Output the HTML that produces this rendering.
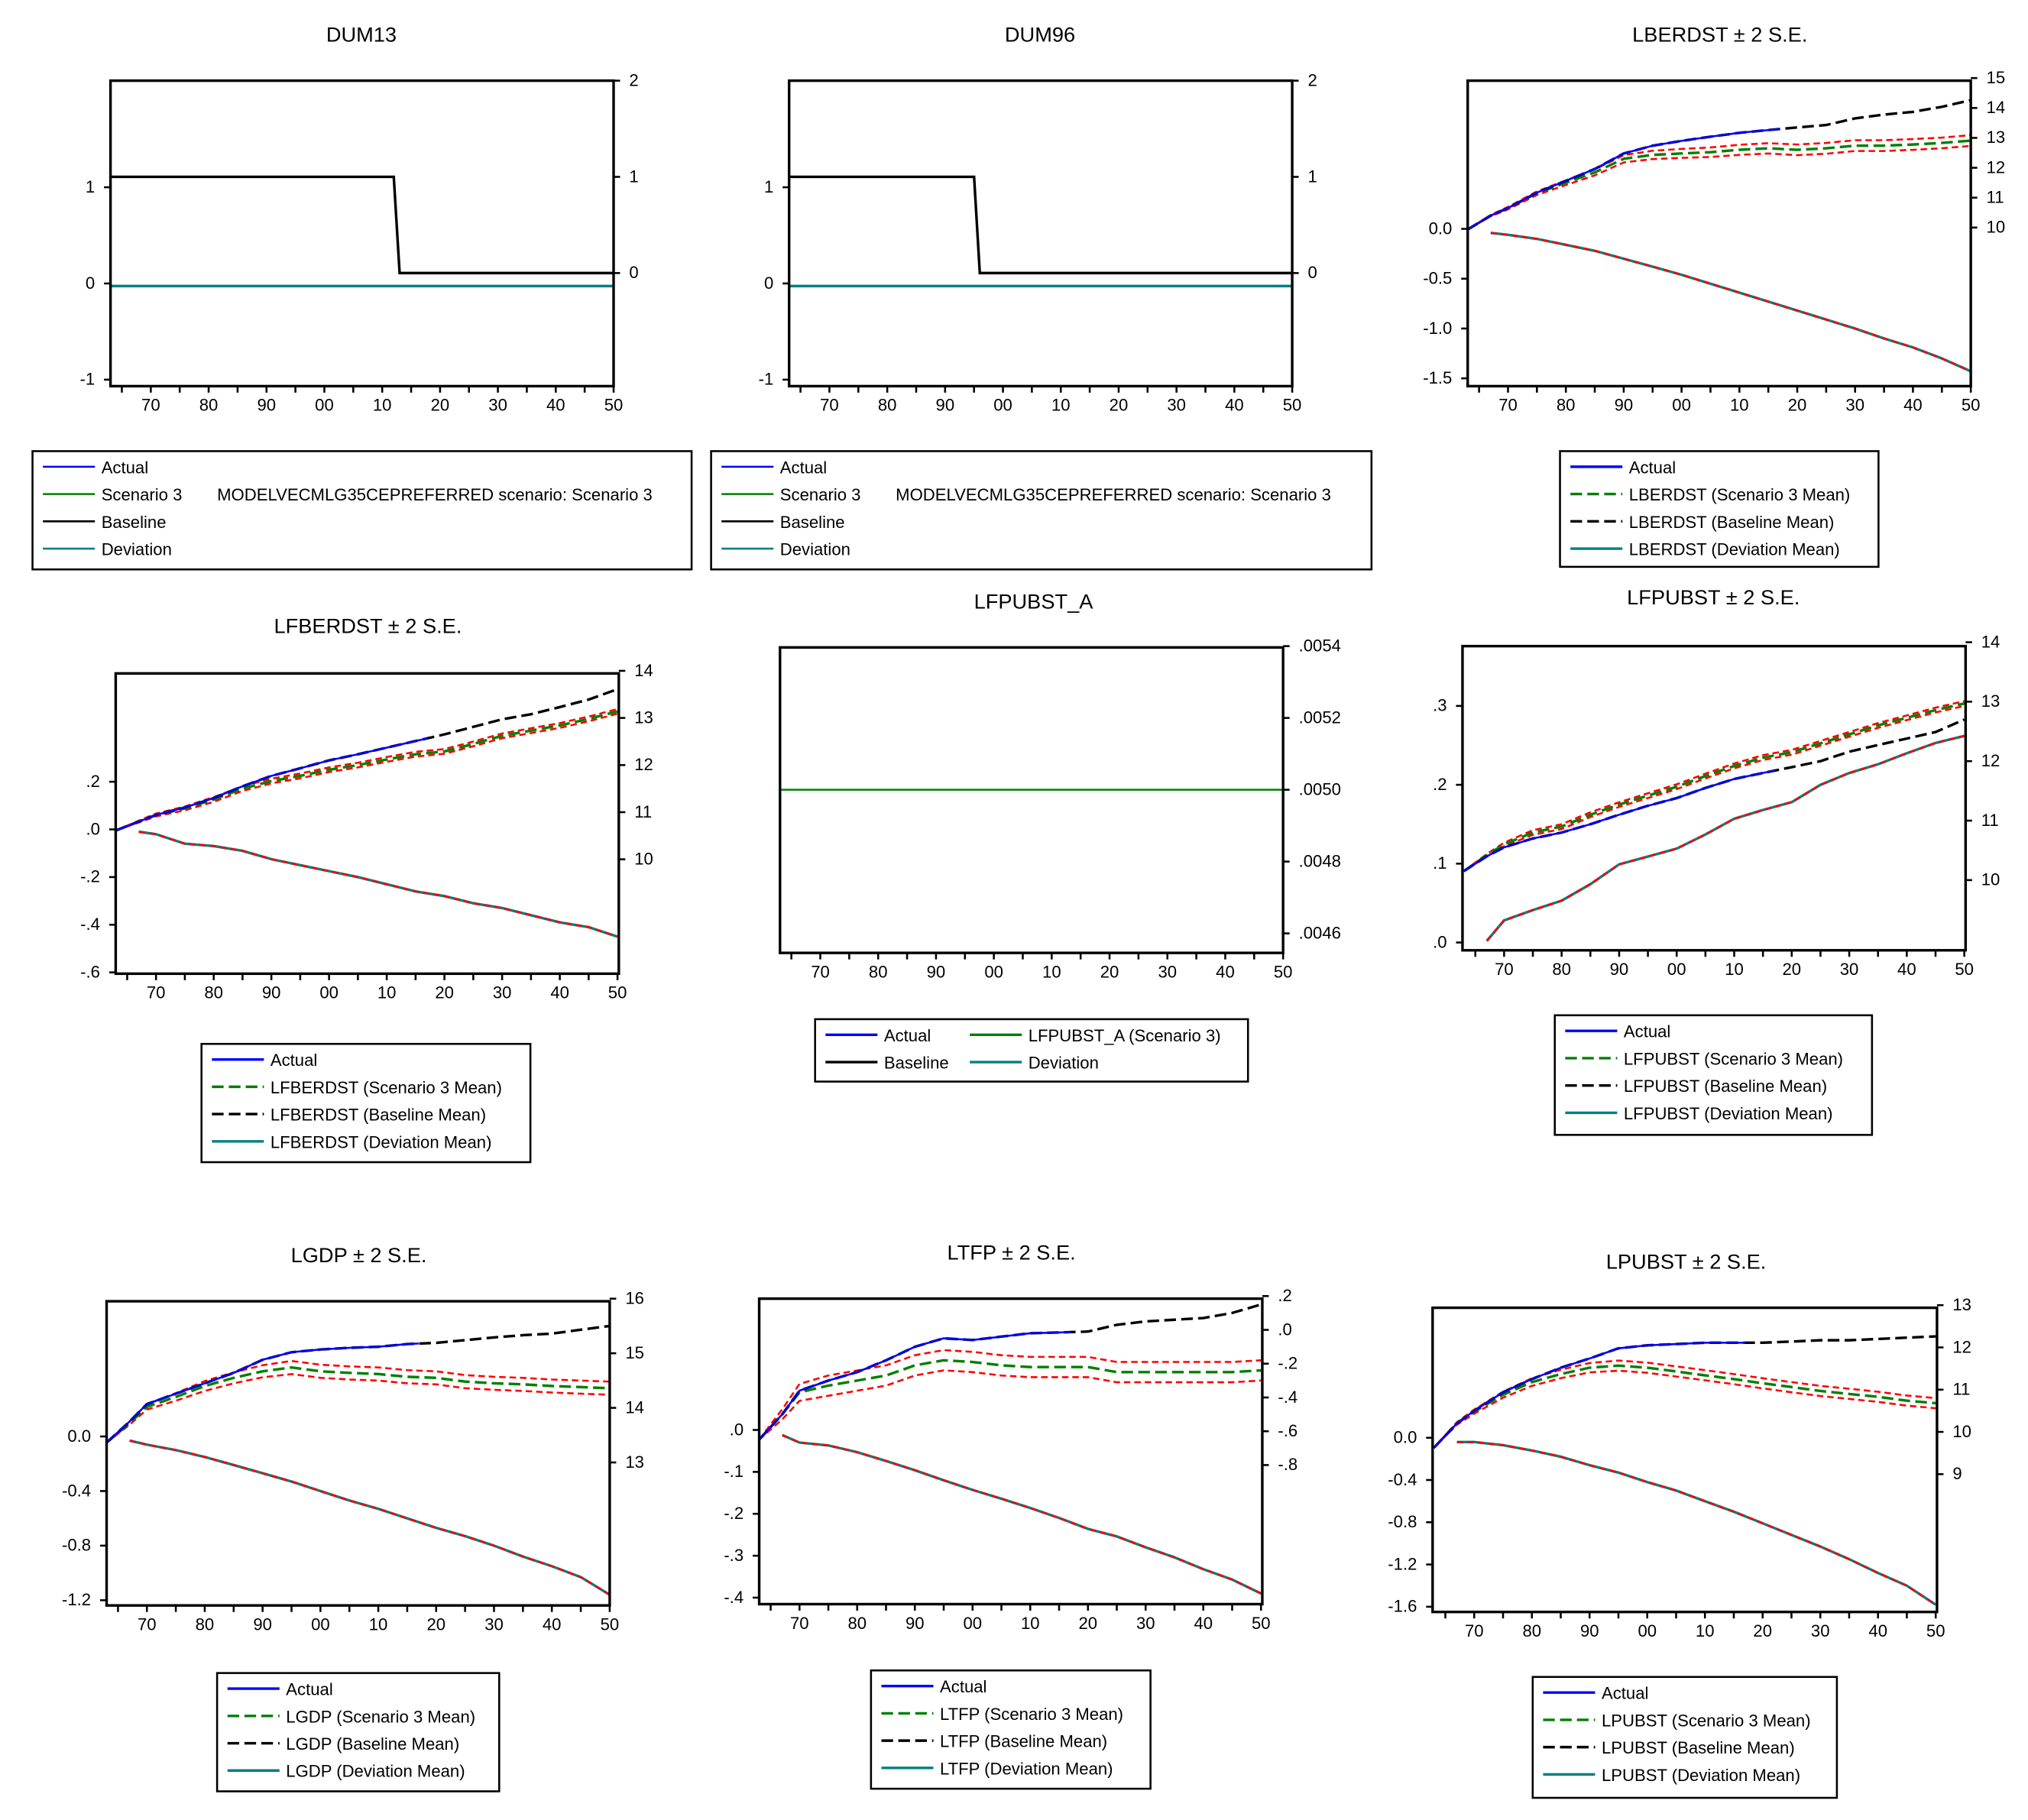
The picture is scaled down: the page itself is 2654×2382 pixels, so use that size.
<!DOCTYPE html>
<html><head><meta charset="utf-8">
<style>
html,body{margin:0;padding:0;background:#fff;}
svg{display:block;font-family:"Liberation Sans",Arial,sans-serif;}
</style></head>
<body>
<svg id="c" width="2654" height="2382" viewBox="0 0 1560 1400" xmlns="http://www.w3.org/2000/svg"></svg>
<script>
// ---------- DATA ----------
const years = [1963,1967,1970,1975,1980,1985,1990,1995,2000,2005,2010,2015,2020,2025,2030,2035,2040,2045,2050];
const actualEnd = 2017;
const xTickLabels = ["70","80","90","00","10","20","30","40","50"];

const dumYears13 = [1963,2012,2013,2050];
const dumYears96 = [1963,1995,1996,2050];
const dumValues = [1,1,0,0];

const lberdstBase = [9.93,10.4,10.65,11.17,11.56,11.96,12.48,12.74,12.9,13.04,13.17,13.26,13.35,13.43,13.65,13.78,13.87,14.04,14.26];
const lberdstScen = [9.93,10.4,10.65,11.15,11.5,11.85,12.3,12.43,12.48,12.52,12.6,12.65,12.6,12.65,12.74,12.74,12.78,12.83,12.91];
const lberdstBand = [0,0.02,0.04,0.06,0.08,0.1,0.12,0.14,0.15,0.16,0.17,0.17,0.18,0.18,0.18,0.18,0.18,0.18,0.18];
const lberdstDev = [null,-0.04,-0.06,-0.1,-0.16,-0.22,-0.3,-0.38,-0.46,-0.55,-0.64,-0.73,-0.82,-0.91,-1.0,-1.1,-1.19,-1.3,-1.43];

const lfberdstBase = [10.61,10.8,10.94,11.1,11.3,11.55,11.77,11.93,12.1,12.23,12.37,12.51,12.65,12.81,12.97,13.08,13.23,13.39,13.61];
const lfberdstScen = [10.61,10.8,10.94,11.08,11.27,11.5,11.66,11.77,11.9,12.0,12.12,12.23,12.29,12.45,12.62,12.73,12.84,12.98,13.14];
const lfberdstBand = [0,0.02,0.03,0.04,0.05,0.05,0.05,0.05,0.05,0.05,0.05,0.05,0.05,0.05,0.05,0.05,0.05,0.05,0.05];
const lfberdstDev = [null,-0.01,-0.02,-0.06,-0.07,-0.09,-0.125,-0.15,-0.175,-0.2,-0.23,-0.26,-0.28,-0.31,-0.33,-0.36,-0.39,-0.41,-0.45];

const lfpubstALevel = [0.005,0.005];
const lfpubstAYears = [1963,2050];

const lfpubstBase = [10.15,10.4,10.55,10.7,10.8,10.94,11.1,11.25,11.38,11.55,11.7,11.8,11.9,12.0,12.16,12.27,12.38,12.49,12.7];
const lfpubstScen = [10.15,10.42,10.6,10.8,10.9,11.1,11.27,11.42,11.57,11.75,11.92,12.06,12.15,12.3,12.45,12.6,12.73,12.86,12.97];
const lfpubstBand = [0,0.02,0.03,0.04,0.04,0.04,0.04,0.04,0.04,0.04,0.04,0.04,0.04,0.04,0.04,0.04,0.04,0.04,0.04];
const lfpubstDev = [null,0.002,0.028,0.041,0.053,0.074,0.099,0.109,0.119,0.137,0.157,0.168,0.178,0.2,0.215,0.226,0.24,0.253,0.262];

const lgdpBase = [13.36,13.75,14.07,14.26,14.45,14.64,14.88,15.02,15.07,15.1,15.12,15.17,15.19,15.24,15.29,15.33,15.36,15.43,15.5];
const lgdpScen = [13.36,13.72,14.02,14.2,14.4,14.55,14.67,14.74,14.67,14.64,14.62,14.57,14.55,14.48,14.45,14.43,14.4,14.38,14.36];
const lgdpBand = [0,0.03,0.05,0.07,0.09,0.1,0.11,0.12,0.12,0.12,0.12,0.12,0.12,0.12,0.12,0.12,0.12,0.12,0.12];
const lgdpDev = [null,-0.03,-0.06,-0.1,-0.15,-0.21,-0.27,-0.33,-0.4,-0.47,-0.53,-0.6,-0.67,-0.73,-0.8,-0.88,-0.95,-1.03,-1.16];

const ltfpBase = [-0.65,-0.5,-0.36,-0.3,-0.25,-0.18,-0.1,-0.05,-0.06,-0.04,-0.02,-0.015,-0.01,0.03,0.05,0.06,0.07,0.1,0.15];
const ltfpScen = [-0.65,-0.5,-0.37,-0.33,-0.3,-0.27,-0.21,-0.18,-0.19,-0.21,-0.22,-0.22,-0.22,-0.25,-0.25,-0.25,-0.25,-0.25,-0.24];
const ltfpBand = [0,0.03,0.05,0.06,0.06,0.06,0.06,0.06,0.06,0.06,0.06,0.06,0.06,0.06,0.06,0.06,0.06,0.06,0.06];
const ltfpDev = [null,-0.012,-0.03,-0.037,-0.053,-0.074,-0.096,-0.12,-0.143,-0.164,-0.186,-0.21,-0.236,-0.254,-0.28,-0.304,-0.332,-0.357,-0.39];

const lpubstBase = [9.62,10.2,10.5,10.94,11.25,11.52,11.74,11.98,12.05,12.08,12.11,12.11,12.11,12.14,12.17,12.17,12.2,12.23,12.26];
const lpubstScen = [9.62,10.2,10.48,10.88,11.18,11.37,11.52,11.57,11.52,11.43,11.34,11.25,11.15,11.06,10.97,10.9,10.83,10.74,10.68];
const lpubstBand = [0,0.03,0.05,0.07,0.09,0.1,0.11,0.12,0.12,0.12,0.12,0.12,0.12,0.12,0.12,0.12,0.12,0.12,0.12];
const lpubstDev = [null,-0.04,-0.04,-0.07,-0.12,-0.18,-0.26,-0.33,-0.42,-0.5,-0.6,-0.7,-0.81,-0.92,-1.03,-1.15,-1.28,-1.4,-1.58];

// tick labels
const dumLeftTicks = [1,0,-1], dumRightTicks = [2,1,0];
const lberdstLeft = ["0.0","-0.5","-1.0","-1.5"], lberdstRight = ["15","14","13","12","11","10"];
const lfberdstLeft = [".2",".0","-.2","-.4","-.6"], lfberdstRight = ["14","13","12","11","10"];
const lfpubstARight = [".0054",".0052",".0050",".0048",".0046"];
const lfpubstLeft = [".3",".2",".1",".0"], lfpubstRight = ["14","13","12","11","10"];
const lgdpLeft = ["0.0","-0.4","-0.8","-1.2"], lgdpRight = ["16","15","14","13"];
const ltfpLeft = [".0","-.1","-.2","-.3","-.4"], ltfpRight = [".2",".0","-.2","-.4","-.6","-.8"];
const lpubstLeft = ["0.0","-0.4","-0.8","-1.2","-1.6"], lpubstRight = ["13","12","11","10","9"];

// ---------- DRAW ----------
const NS="http://www.w3.org/2000/svg";
const svg=document.getElementById('c');
function el(tag,attrs,parent){const e=document.createElementNS(NS,tag);for(const k in attrs)e.setAttribute(k,attrs[k]);(parent||svg).appendChild(e);return e;}
function txt(s,x,y,size,anchor,parent){const t=el('text',{x:x,y:y,'font-size':size,'text-anchor':anchor||'start',fill:'#000'},parent);t.textContent=s;return t;}
function lin(a){return v=>a[1]+(v-a[0])*(a[3]-a[1])/(a[2]-a[0]);}

function panel(id,P){
  const g=el('g',{});
  
  
  const t=txt(P.title,P.tx,P.ty,16,'middle',g);
  
  
  const xs=yr=>P.x70+(yr-1970)*(P.x50-P.x70)/80;
  P.xs=xs;
  // x ticks
  for(let yr=1965;yr<=2050;yr+=5){el('line',{x1:xs(yr),x2:xs(yr),y1:P.y1,y2:P.y1+5,stroke:'#000','stroke-width':1.5},g);}
  xTickLabels.forEach((s,i)=>{const l=txt(s,xs(1970+i*10),P.y1+19,13,'middle',g);});
  if(P.L){const ly=lin(P.L);P.ly=ly;P.lt.forEach(s=>{const v=parseFloat(s);const y=ly(v);el('line',{x1:P.x0-5,x2:P.x0,y1:y,y2:y,stroke:'#000','stroke-width':1.5},g);const l=txt(String(s),P.x0-12,y+4,13,'end',g);});}
  if(P.R){const ry=lin(P.R);P.ry=ry;P.rt.forEach(s=>{const v=parseFloat(s);const y=ry(v);el('line',{x1:P.x1,x2:P.x1+5,y1:y,y2:y,stroke:'#000','stroke-width':1.5},g);const l=txt(String(s),P.x1+12,y+4,13,'start',g);});}
  P.g=g;
  return g;
}
function path(P,yrs,vals,yf,style,name,maxYr){
  let d='';yrs.forEach((yr,i)=>{const v=vals[i];if(v===null||v===undefined)return;if(maxYr&&yr>maxYr)return;d+=(d?'L':'M')+P.xs(yr).toFixed(1)+','+yf(v).toFixed(1);});
  if(maxYr){const i=yrs.findIndex(y=>y>maxYr);if(i>0){const y0=yrs[i-1],y1=yrs[i];const v=vals[i-1]+(vals[i]-vals[i-1])*(maxYr-y0)/(y1-y0);d+='L'+P.xs(maxYr).toFixed(1)+','+yf(v).toFixed(1);}}
  const p=el('path',Object.assign({d:d,fill:'none'},style),P.g);
  
  
  return p;
}
function frame(P){const r=el('rect',{x:P.x0,y:P.y0,width:P.x1-P.x0,height:P.y1-P.y0,fill:'none',stroke:'#000','stroke-width':2},P.g);}
function legend(id,x,y,w,h,items){
  const g=el('g',{});
  
  
  el('rect',{x:x,y:y,width:w,height:h,fill:'#fff',stroke:'#000','stroke-width':1.5},g);
  items.forEach(it=>{
    const ln=el('line',{x1:it.x,x2:it.x+40,y1:it.y,y2:it.y,stroke:it.c,'stroke-width':it.w||1.5,'stroke-dasharray':it.d||'none'},g);
    
    
    const t=txt(it.t,it.x+45,it.y+5,13,'start',g);
    
    
  });
}
const RED={stroke:'#ff0000','stroke-width':1.5,'stroke-dasharray':'5,3'};
const GRN={stroke:'#008000','stroke-width':2,'stroke-dasharray':'9,4'};
const BLK={stroke:'#000','stroke-width':2,'stroke-dasharray':'9,4'};
const BLU={stroke:'#0000ff','stroke-width':1.5};
const TEAL={stroke:'#008080','stroke-width':2};

function forecastPanel(id,P,base,scen,band,dev){
  panel(id,P);
  const up=scen.map((v,i)=>v+band[i]), dn=scen.map((v,i)=>v-band[i]);
  path(P,years,up,P.ry,RED,'scenario-upper-band');
  path(P,years,dn,P.ry,RED,'scenario-lower-band');
  path(P,years,scen,P.ry,GRN,'scenario-mean-line');
  path(P,years,base,P.ry,BLK,'baseline-mean-line');
  path(P,years,base,P.ry,BLU,'actual-line',actualEnd);
  path(P,years,dev,P.ly,TEAL,'deviation-line');
  path(P,years,dev,P.ly,RED,'deviation-band');
  frame(P);
}
function stdLegend(id,x,y,w,h,name,dashBlack){
  const ix=x+8;
  legend(id,x,y,w,h,[
    {x:ix,y:y+12,c:'#0000ff',t:'Actual',w:2},
    {x:ix,y:y+33,c:'#008000',t:name+' (Scenario 3 Mean)',d:'9,4',w:2},
    {x:ix,y:y+54,c:'#000',t:name+' (Baseline Mean)',d:'9,4',w:2},
    {x:ix,y:y+75,c:'#008080',t:name+' (Deviation Mean)',w:2}]);
}

// DUM panels
[['dum13','DUM13',85,472,278,dumYears13,25],['dum96','DUM96',607,994,800,dumYears96,547]].forEach(a=>{
  const P={title:a[1],tx:a[4],ty:32,x0:a[2],x1:a[3],y0:62,y1:297,x70:a[2]+31,x50:a[3],L:[1,144,0,218],lt:dumLeftTicks,R:[1,136,0,210],rt:dumRightTicks};
  panel(a[0],P);
  path(P,[1963,2050],[0,0],lin([1,146,0,220]),TEAL,'deviation-line');
  path(P,a[5],dumValues,P.ry,{stroke:'#000','stroke-width':2},'baseline-line');
  frame(P);
  const lx=a[6];
  legend(a[0],lx,347,lx===25?507:508,91,[
    {x:lx+8,y:359,c:'#0000ff',t:'Actual'},{x:lx+8,y:380,c:'#008000',t:'Scenario 3'},
    {x:lx+8,y:401,c:'#000',t:'Baseline'},{x:lx+8,y:422,c:'#008080',t:'Deviation'}]);
  const s=txt('MODELVECMLG35CEPREFERRED scenario: Scenario 3',lx+142,385,13,'start');
  
  
});

forecastPanel('lberdst',{title:'LBERDST ± 2 S.E.',tx:1323,ty:32,x0:1129,x1:1516,y0:62,y1:297,x70:1160,x50:1516,L:[0,176,-1.5,291],lt:lberdstLeft,R:[15,60,10,175],rt:lberdstRight},lberdstBase,lberdstScen,lberdstBand,lberdstDev);
stdLegend('lberdst',1200,347,245,89,'LBERDST');

forecastPanel('lfberdst',{title:'LFBERDST ± 2 S.E.',tx:283,ty:487,x0:89,x1:476,y0:518,y1:749,x70:120,x50:475,L:[0,638,-0.6,748],lt:lfberdstLeft,R:[14,516,10,661],rt:lfberdstRight},lfberdstBase,lfberdstScen,lfberdstBand,lfberdstDev);
stdLegend('lfberdst',155,803,253,91,'LFBERDST');

(function(){
  const P={title:'LFPUBST_A',tx:795,ty:468,x0:600,x1:987,y0:498,y1:733,x70:631,x50:987,R:[0.0054,497,0.0046,718],rt:lfpubstARight};
  panel('lfpubst-a',P);
  path(P,lfpubstAYears,lfpubstALevel,P.ry,{stroke:'#008000','stroke-width':1.5},'scenario-line');
  frame(P);
  legend('lfpubst-a',627,784,333,48,[
    {x:635,y:796,c:'#0000ff',t:'Actual',w:2},{x:746,y:796,c:'#008000',t:'LFPUBST_A (Scenario 3)',w:2},
    {x:635,y:817,c:'#000',t:'Baseline',w:2},{x:746,y:817,c:'#008080',t:'Deviation',w:2}]);
})();

forecastPanel('lfpubst',{title:'LFPUBST ± 2 S.E.',tx:1318,ty:465,x0:1125,x1:1512,y0:497,y1:731,x70:1157,x50:1511,L:[0.3,543,0,725],lt:lfpubstLeft,R:[14,494,10,677],rt:lfpubstRight},lfpubstBase,lfpubstScen,lfpubstBand,lfpubstDev);
stdLegend('lfpubst',1196,781,244,92,'LFPUBST');

forecastPanel('lgdp',{title:'LGDP ± 2 S.E.',tx:276,ty:971,x0:82,x1:469,y0:1001,y1:1235,x70:113,x50:469,L:[0,1105,-1.2,1231],lt:lgdpLeft,R:[16,999,13,1125],rt:lgdpRight},lgdpBase,lgdpScen,lgdpBand,lgdpDev);
stdLegend('lgdp',167,1287,217,91,'LGDP');

forecastPanel('ltfp',{title:'LTFP ± 2 S.E.',tx:778,ty:969,x0:584,x1:971,y0:999,y1:1234,x70:615,x50:970,L:[0,1100,-0.4,1229],lt:ltfpLeft,R:[0.2,997,-0.8,1127],rt:ltfpRight},ltfpBase,ltfpScen,ltfpBand,ltfpDev);
stdLegend('ltfp',670,1285,215,91,'LTFP');

forecastPanel('lpubst',{title:'LPUBST ± 2 S.E.',tx:1297,ty:976,x0:1102,x1:1490,y0:1006,y1:1240,x70:1134,x50:1489,L:[0,1106,-1.6,1236],lt:lpubstLeft,R:[13,1004,9,1134],rt:lpubstRight},lpubstBase,lpubstScen,lpubstBand,lpubstDev);
stdLegend('lpubst',1179,1290,234,93,'LPUBST');
</script>
</body></html>
